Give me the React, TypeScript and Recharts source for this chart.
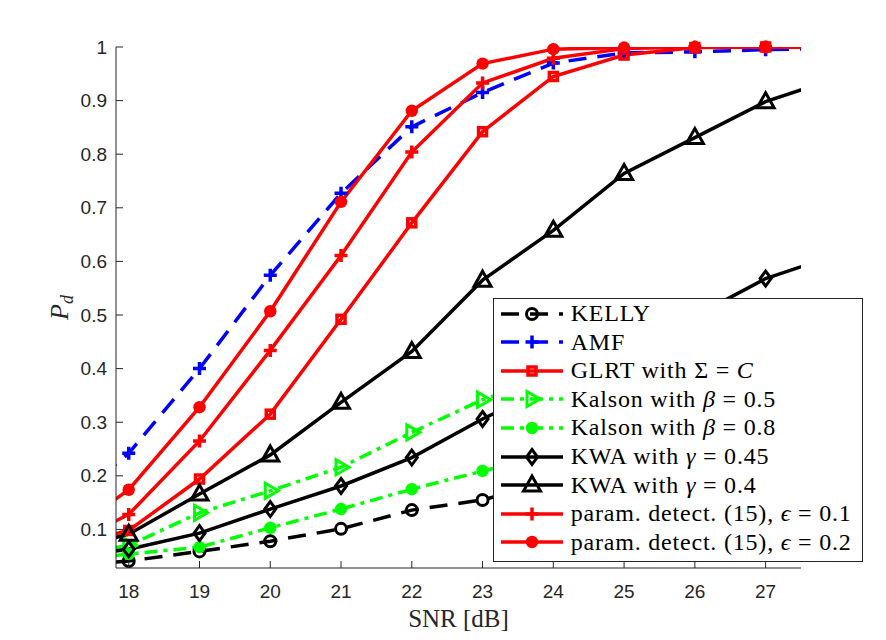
import React from "react";
import { ComposedChart, Line, Scatter, XAxis, YAxis, Legend } from "recharts";

// SNR grid; 17 and 28 only feed the line stubs that run into the frame
const snr = [17, 18, 19, 20, 21, 22, 23, 24, 25, 26, 27, 28];

const kelly = [0.03, 0.041, 0.059, 0.078, 0.101, 0.136, 0.155, 0.19, 0.23, 0.27, 0.32, 0.36];
const amf = [0.131, 0.242, 0.4, 0.574, 0.727, 0.851, 0.915, 0.97, 0.989, 0.991, 0.995, 0.998];
const glrt = [0.065, 0.098, 0.194, 0.315, 0.492, 0.672, 0.842, 0.945, 0.985, 0.999, 1.0, 1.0];
const kalson05 = [0.05, 0.07, 0.131, 0.172, 0.216, 0.281, 0.342, 0.385, 0.42, 0.45, 0.48, 0.5];
const kalson08 = [0.04, 0.054, 0.067, 0.103, 0.138, 0.175, 0.209, 0.24, 0.27, 0.3, 0.33, 0.36];
const kwa045 = [0.046, 0.063, 0.093, 0.138, 0.181, 0.234, 0.306, 0.37, 0.43, 0.498, 0.568, 0.612];
const kwa04 = [0.058, 0.091, 0.166, 0.239, 0.337, 0.432, 0.565, 0.658, 0.764, 0.831, 0.898, 0.942];
const param01 = [0.061, 0.128, 0.265, 0.434, 0.611, 0.804, 0.933, 0.979, 0.997, 1.0, 1.0, 1.0];
const param02 = [0.08, 0.174, 0.328, 0.507, 0.711, 0.881, 0.969, 0.996, 0.999, 1.0, 1.0, 1.0];

const xTicks = [18, 19, 20, 21, 22, 23, 24, 25, 26, 27];
const yTicks = [0.1, 0.2, 0.3, 0.4, 0.5, 0.6, 0.7, 0.8, 0.9, 1];

const xDomain: [number, number] = [17.82, 27.5];
const yDomain: [number, number] = [0.028, 1];

const axisColor = "#262626";
const sans = "'Liberation Sans', Arial, Helvetica, sans-serif";
const serif = "'Liberation Serif', 'Times New Roman', serif";

const DASH = "18 11";
const DASHDOT = "13 6 4 6";

type MarkerKind = "circleOpen" | "plus" | "square" | "triRight" | "circleFilled" | "diamond" | "triUp";

const series: { key: string; values: number[]; color: string; dash?: string; marker: MarkerKind }[] = [
  { key: "kelly", values: kelly, color: "#000000", dash: DASH, marker: "circleOpen" },
  { key: "amf", values: amf, color: "#0000ff", dash: DASH, marker: "plus" },
  { key: "glrt", values: glrt, color: "#ff0000", marker: "square" },
  { key: "kalson05", values: kalson05, color: "#00ff00", dash: DASHDOT, marker: "triRight" },
  { key: "kalson08", values: kalson08, color: "#00ff00", dash: DASHDOT, marker: "circleFilled" },
  { key: "kwa045", values: kwa045, color: "#000000", marker: "diamond" },
  { key: "kwa04", values: kwa04, color: "#000000", marker: "triUp" },
  { key: "param01", values: param01, color: "#ff0000", marker: "plus" },
  { key: "param02", values: param02, color: "#ff0000", marker: "circleFilled" },
];

const seriesNames: React.ReactNode[] = [
  "KELLY",
  "AMF",
  <>GLRT with Σ = <i>C</i></>,
  <>Kalson with <i>β</i> = 0.5</>,
  <>Kalson with <i>β</i> = 0.8</>,
  <>KWA with <i>γ</i> = 0.45</>,
  <>KWA with <i>γ</i> = 0.4</>,
  <>param. detect. (15), <i>ϵ</i> = 0.1</>,
  <>param. detect. (15), <i>ϵ</i> = 0.2</>,
];

const rows = snr.map((x, i) => {
  const r: Record<string, number> = { x };
  series.forEach((s) => (r[s.key] = s.values[i]));
  return r;
});

const markerPoints = (values: number[]) =>
  snr.map((x, i) => ({ x, y: values[i] })).filter((p) => p.x >= 18 && p.x <= 27);

function Marker({ kind, cx, cy, color }: { kind: MarkerKind; cx: number; cy: number; color: string }) {
  switch (kind) {
    case "circleOpen":
      return <circle cx={cx} cy={cy} r={5.5} fill="none" stroke={color} strokeWidth={3} />;
    case "circleFilled":
      return <circle cx={cx} cy={cy} r={6.2} fill={color} />;
    case "plus":
      return (
        <path d={`M${cx - 6.5},${cy}h13M${cx},${cy - 6.5}v13`} stroke={color} strokeWidth={3.5} fill="none" />
      );
    case "square":
      return (
        <rect x={cx - 4} y={cy - 4} width={8} height={8} fill="none" stroke={color} strokeWidth={3.5} />
      );
    case "triUp":
      return (
        <polygon
          points={`${cx},${cy - 9} ${cx + 8.5},${cy + 6} ${cx - 8.5},${cy + 6}`}
          fill="none"
          stroke={color}
          strokeWidth={3}
        />
      );
    case "triRight":
      return (
        <polygon
          points={`${cx + 8},${cy} ${cx - 5},${cy - 7.5} ${cx - 5},${cy + 7.5}`}
          fill="none"
          stroke={color}
          strokeWidth={3}
        />
      );
    case "diamond":
      return (
        <polygon
          points={`${cx},${cy - 7.5} ${cx + 5.5},${cy} ${cx},${cy + 7.5} ${cx - 5.5},${cy}`}
          fill="none"
          stroke={color}
          strokeWidth={3}
        />
      );
  }
  return null;
}

// frame ticks point inward, MATLAB style
const BottomTick = (p: any) => (
  <g>
    <line x1={p.x} y1={p.y} x2={p.x} y2={p.y - 7} stroke={axisColor} />
    <text x={p.x} y={p.y + 30} textAnchor="middle" fontFamily={sans} fontSize={19} fill={axisColor}>
      {p.payload.value}
    </text>
  </g>
);

const TopTick = (p: any) => <line x1={p.x} y1={p.y} x2={p.x} y2={p.y + 7} stroke={axisColor} />;

const LeftTick = (p: any) => (
  <g>
    <line x1={p.x} y1={p.y} x2={p.x + 7} y2={p.y} stroke={axisColor} />
    <text x={p.x - 9} y={p.y + 6.5} textAnchor="end" fontFamily={sans} fontSize={19} fill={axisColor}>
      {p.payload.value}
    </text>
  </g>
);

const RightTick = (p: any) => <line x1={p.x} y1={p.y} x2={p.x - 7} y2={p.y} stroke={axisColor} />;

const XLabel = (p: any) => {
  const vb = p.viewBox;
  return (
    <text x={vb.x + vb.width / 2} y={vb.y + 59} textAnchor="middle" fontFamily={serif} fontSize={25} fill={axisColor}>
      SNR [dB]
    </text>
  );
};

const YLabel = (p: any) => {
  const vb = p.viewBox;
  const cx = vb.x + 12;
  const cy = vb.y + vb.height / 2;
  return (
    <text transform={`translate(${cx},${cy}) rotate(-90)`} textAnchor="middle" fontFamily={serif} fontSize={26} fill={axisColor}>
      <tspan fontStyle="italic">P</tspan>
      <tspan fontStyle="italic" fontSize={18} dy={5}>d</tspan>
    </text>
  );
};

function LegendBox() {
  return (
    <div
      style={{
        border: `1px solid ${axisColor}`,
        background: "#fff",
        width: 370,
        boxSizing: "border-box",
        paddingBottom: 4,
        fontFamily: serif,
        fontSize: 24,
        letterSpacing: 0.8,
        color: "#000",
      }}
    >
      {series.map((s, i) => (
        <div key={s.key} style={{ height: 28.6, display: "flex", alignItems: "center" }}>
          <svg width={62} height={24} style={{ marginLeft: 7, marginRight: 8, flex: "none" }}>
            <line x1={0} x2={62} y1={12} y2={12} stroke={s.color} strokeWidth={3.5} strokeDasharray={s.dash} />
            <Marker kind={s.marker} cx={31} cy={12} color={s.color} />
          </svg>
          <span style={{ whiteSpace: "nowrap" }}>{seriesNames[i]}</span>
        </div>
      ))}
    </div>
  );
}

export default function App() {
  return (
    <ComposedChart width={870} height={632} margin={{ top: 39, right: 77, bottom: 32, left: 48 }}>
      <XAxis
        xAxisId="b"
        dataKey="x"
        type="number"
        domain={xDomain}
        allowDataOverflow
        ticks={xTicks}
        interval={0}
        tickSize={0}
        tickMargin={0}
        tickLine={false}
        height={40}
        stroke={axisColor}
        tick={BottomTick}
        label={XLabel}
      />
      <XAxis
        xAxisId="t"
        orientation="top"
        dataKey="x"
        type="number"
        domain={xDomain}
        ticks={xTicks}
        interval={0}
        tickSize={0}
        tickMargin={0}
        tickLine={false}
        height={0}
        stroke={axisColor}
        tick={TopTick}
      />
      <YAxis
        yAxisId="l"
        type="number"
        domain={yDomain}
        allowDataOverflow
        ticks={yTicks}
        interval={0}
        tickSize={0}
        tickMargin={0}
        tickLine={false}
        width={60}
        stroke={axisColor}
        tick={LeftTick}
        label={YLabel}
      />
      <YAxis
        yAxisId="r"
        orientation="right"
        dataKey="y"
        type="number"
        domain={yDomain}
        ticks={yTicks}
        interval={0}
        tickSize={0}
        tickMargin={0}
        tickLine={false}
        width={0}
        stroke={axisColor}
        tick={RightTick}
      />
      {series.flatMap((s) => [
        <Line
          key={`${s.key}-line`}
          xAxisId="b"
          yAxisId="l"
          data={rows}
          dataKey={s.key}
          type="linear"
          stroke={s.color}
          strokeWidth={3.5}
          strokeDasharray={s.dash}
          dot={false}
          activeDot={false}
          isAnimationActive={false}
          legendType="none"
        />,
        <Scatter
          key={`${s.key}-pts`}
          xAxisId="t"
          yAxisId="r"
          data={markerPoints(s.values)}
          isAnimationActive={false}
          legendType="none"
          shape={(p: any) => <Marker kind={s.marker} cx={p.cx} cy={p.cy} color={s.color} />}
        />,
      ])}
      <Legend
        layout="vertical"
        align="center"
        verticalAlign="middle"
        content={LegendBox}
        wrapperStyle={{ left: 484.7, top: 290.3, width: 370 }}
      />
    </ComposedChart>
  );
}
